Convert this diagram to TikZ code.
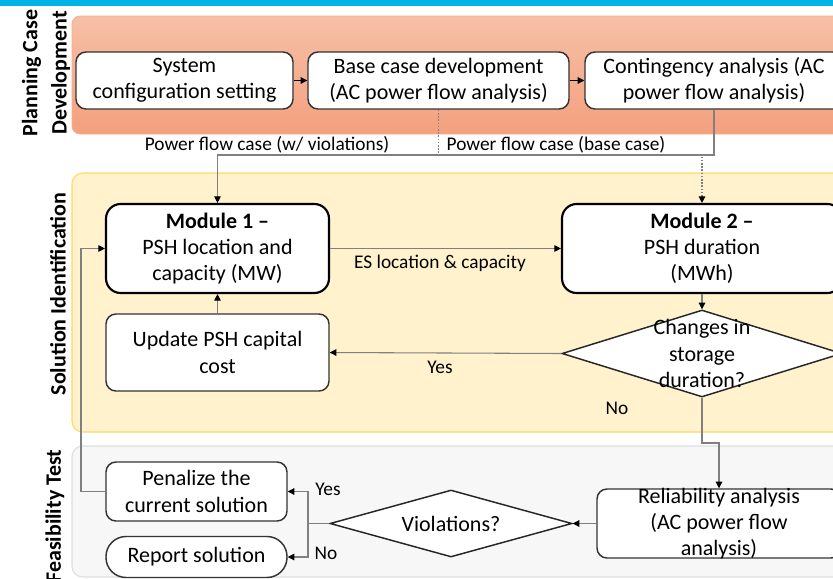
\documentclass[tikz,border=0pt]{standalone}
\usepackage{fontspec}
\setmainfont{Carlito}
\usetikzlibrary{shapes.geometric,arrows.meta}
\definecolor{topbar}{HTML}{00B4E8}
\definecolor{planTop}{HTML}{F6C0A6}
\definecolor{planBot}{HTML}{F4A07E}
\definecolor{planEdge}{HTML}{F7B08C}
\definecolor{solFill}{HTML}{FFF2CC}
\definecolor{solEdge}{HTML}{FFD966}
\definecolor{feaFill}{HTML}{F7F7F7}
\definecolor{feaEdge}{HTML}{DEDEDE}
\definecolor{wire}{HTML}{808080}
\tikzset{
  txt/.style={font=\fontsize{16.5}{19.6}\selectfont, align=center, inner sep=0pt},
  lbl/.style={font=\fontsize{14.5}{17}\selectfont, inner sep=0pt},
  hdr/.style={font=\bfseries\fontsize{16.5}{16.5}\selectfont, align=center, inner sep=0pt, rotate=90},
  box/.style={draw=black!80, line width=1.1pt, fill=white, rounded corners=7.5pt, inner sep=0pt},
  modbox/.style={box, draw=black, line width=1.6pt, rounded corners=11pt},
  decision/.style={diamond, draw=black!85, line width=1.1pt, fill=white, inner sep=0pt},
  conn/.style={draw=wire, line width=0.8pt},
  tip/.style={-{Triangle[length=5pt,width=5pt,color=black]}},
  flow/.style={conn, tip},
  dotflow/.style={conn, tip, dash pattern=on 1.2pt off 1.2pt}
}
\begin{document}
\begin{tikzpicture}[x=0.75pt,y=-0.75pt]
\useasboundingbox (0,0) rectangle (833,579);
\clip (0,0) rectangle (833,579);

% stage bands
\fill[topbar] (0,0) rectangle (833,6);
\shade[top color=planTop, bottom color=planBot, rounded corners=6pt] (72,16) rectangle (860,134);
\draw[planEdge, line width=0.6pt, rounded corners=6pt] (72,16) rectangle (860,134);
\draw[solEdge, fill=solFill, line width=0.8pt, rounded corners=8pt] (72,173) rectangle (860,432);
\draw[feaEdge, fill=feaFill, line width=0.8pt, rounded corners=8pt] (72,446) rectangle (860,577);

% stage titles
\node[hdr, font=\bfseries\fontsize{16.5}{22}\selectfont] (hPlan) at (46,73) {Planning Case\\Development};
\node[hdr] (hSol) at (58,294) {Solution Identification};
\node[hdr] (hFea) at (55,516) {Feasibility Test};

% planning case boxes
\node[box, minimum width=217*0.75pt, minimum height=57*0.75pt] (b1) at (184.5,80.5) {};
\node[txt] at (b1.center) {System\\configuration setting};
\node[box, minimum width=261*0.75pt, minimum height=57*0.75pt] (b2) at (438.5,80.5) {};
\node[txt] at (b2.center) {Base case development\\(AC power flow analysis)};
\node[box, minimum width=258*0.75pt, minimum height=57*0.75pt] (b3) at (714,80.5) {};
\node[txt] at (b3.center) {Contingency analysis (AC\\power flow analysis)};

% solution identification
\node[modbox, minimum width=223*0.75pt, minimum height=89*0.75pt] (m1) at (217.5,248.5) {};
\node[txt] at (m1.center) {\textbf{Module 1 –}\\PSH location and\\capacity (MW)};
\node[modbox, minimum width=280*0.75pt, minimum height=89*0.75pt] (m2) at (702,248.5) {};
\node[txt] at (m2.center) {\textbf{Module 2 –}\\PSH duration\\(MWh)};
\node[box, minimum width=223*0.75pt, minimum height=77*0.75pt] (up) at (217.5,352.5) {};
\node[txt] at (up.center) {Update PSH capital\\cost};
\node[decision, minimum width=280*0.75pt, minimum height=87*0.75pt] (d1) at (702,353.5) {};
\node[txt] at (d1.center) {Changes in\\storage\\duration?};

% feasibility test
\node[box, minimum width=181*0.75pt, minimum height=59*0.75pt] (pen) at (196.5,491.5) {};
\node[txt] at (pen.center) {Penalize the\\current solution};
\node[box, rounded corners=15pt, minimum width=181*0.75pt, minimum height=41*0.75pt] (rep) at (196.5,557) {};
\node[txt] at (rep.center) {Report solution};
\node[decision, minimum width=242*0.75pt, minimum height=67*0.75pt] (vio) at (451,523.5) {};
\node[txt] at (vio.center) {Violations?};
\node[box, minimum width=244*0.75pt, minimum height=69*0.75pt] (rel) at (719,523.5) {};
\node[txt] at (rel.center) {Reliability analysis\\(AC power flow\\analysis)};

% routing points
\coordinate (yCase) at (0,155);
\coordinate (yNo) at (0,443);
\coordinate (xFork) at (308,0);
\coordinate (xLoop) at (81,0);

% connectors
\draw[flow, draw=black] (b1) -- (b2);
\draw[flow, draw=black] (b2) -- (b3);
\draw[flow] (b3.south) -- (b3.south |- yCase) -| (m1.north);
\draw[dotflow] (b2.south) -- (b2.south |- yCase) -| (m2.north);
\node[lbl] (lViol) at (267,145) {Power flow case (w/ violations)};
\node[lbl] (lBase) at (556,145) {Power flow case (base case)};

\draw[flow] (m1) -- (m2);
\node[lbl] (lEs) at (440,263) {ES location \& capacity};
\draw[flow] (up) -- (m1);
\draw[flow] (m2) -- (d1);
\draw[flow] (d1.west) -- (up.east);
\node[lbl] (lYes1) at (440,367) {Yes};
\draw[flow] (d1.south) -- (d1.south |- yNo) -| (rel.north);
\node[lbl] (lNo1) at (617,408) {No};

\draw[flow] (rel.west) -- (vio.east);
\draw[conn] (vio.west) -- (xFork |- vio.west);
\draw[flow] (xFork |- vio.west) |- (pen.east);
\draw[flow] (xFork |- vio.west) |- (rep.east);
\node[lbl] (lYes2) at (328,489) {Yes};
\node[lbl] (lNo2) at (326,553) {No};
\draw[flow] (pen.west) -- (xLoop |- pen.west) |- (m1.west);
\end{tikzpicture}
\end{document}
